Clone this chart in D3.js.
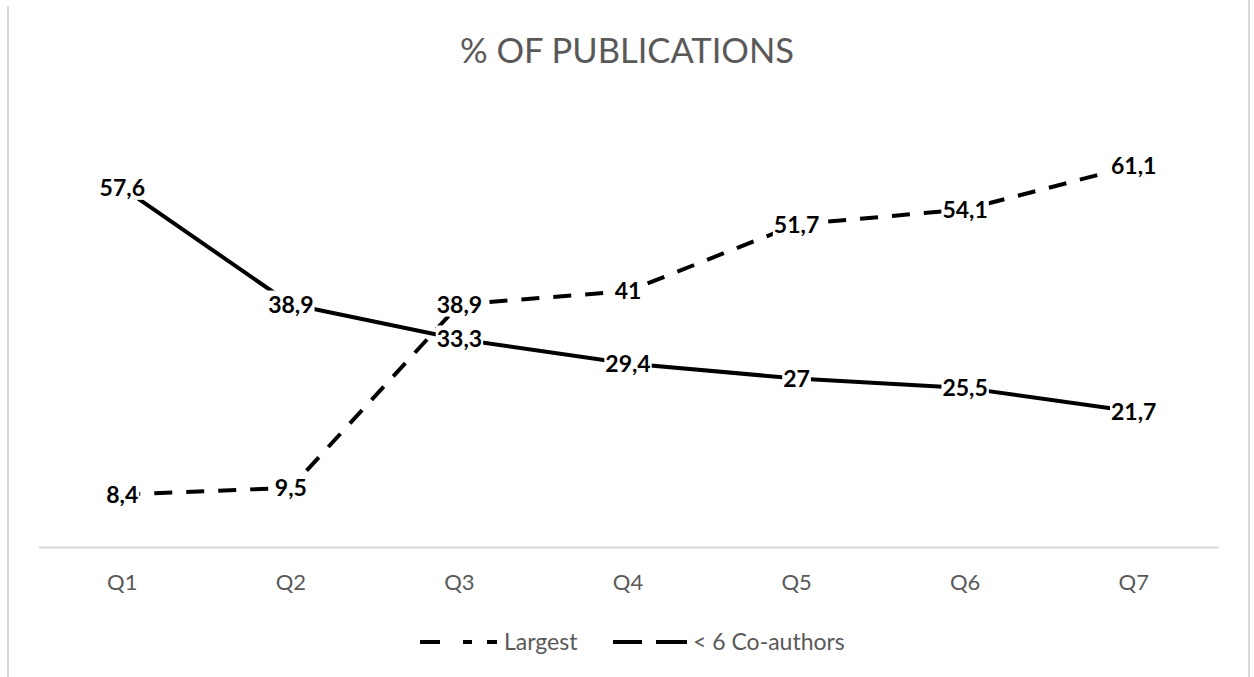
<!DOCTYPE html>
<html>
<head>
<meta charset="utf-8">
<script src="https://cdn.jsdelivr.net/npm/d3@7"></script>
<style>
  html, body { margin: 0; padding: 0; background: #fff; }
  svg { display: block; }
</style>
</head>
<body>
<svg id="chart" width="1254" height="677"></svg>
<script>
const categories = ["Q1", "Q2", "Q3", "Q4", "Q5", "Q6", "Q7"];
const largest = [8.4, 9.5, 38.9, 41, 51.7, 54.1, 61.1];
const coauthors = [57.6, 38.9, 33.3, 29.4, 27, 25.5, 21.7];
const seriesNames = ["Largest", "< 6 Co-authors"];
const title = "% OF PUBLICATIONS";

const W = 1254, H = 677;
const svg = d3.select("#chart");
const FONT = "Lato, 'Open Sans', sans-serif";

// frame
svg.append("line").attr("x1", 8).attr("x2", 8).attr("y1", 6).attr("y2", H)
  .attr("stroke", "#d9d9d9").attr("stroke-width", 2);
svg.append("line").attr("x1", 1249).attr("x2", 1249).attr("y1", 0).attr("y2", H)
  .attr("stroke", "#d9d9d9").attr("stroke-width", 2);

const x = d3.scaleBand().domain(categories).range([38, 1218]);
const y = d3.scaleLinear().domain([0, 70]).range([547, 547 - 70 * 6.24]);
const cx = c => x(c) + x.bandwidth() / 2;

// title
svg.append("text").attr("x", W / 2).attr("y", 63).attr("text-anchor", "middle")
  .attr("font-family", FONT).attr("font-size", 34.5).attr("fill", "#595959")
  .text(title);

// x axis
const xAxis = d3.axisBottom(x).tickSize(0).tickPadding(0);
const gx = svg.append("g").attr("transform", `translate(0,${y(0)})`).call(xAxis);
gx.select(".domain").attr("stroke", "#d9d9d9").attr("stroke-width", 2);
gx.selectAll("text").attr("font-family", FONT).attr("font-size", 22)
  .attr("fill", "#595959").attr("dy", null).attr("y", 43);

// lines
const line = d3.line().x((d, i) => cx(categories[i])).y(d => y(d));
svg.append("path").datum(coauthors).attr("d", line)
  .attr("fill", "none").attr("stroke", "#000").attr("stroke-width", 4)
  .attr("stroke-linejoin", "round");
svg.append("path").datum(largest).attr("d", line)
  .attr("fill", "none").attr("stroke", "#000").attr("stroke-width", 4)
  .attr("stroke-dasharray", "18,14");

// data labels with white boxes
function labels(data) {
  const g = svg.append("g");
  data.forEach((v, i) => {
    const lg = g.append("g").attr("transform", `translate(${cx(categories[i])},${y(v)})`);
    const t = lg.append("text").attr("text-anchor", "middle").attr("dy", "0.36em")
      .attr("font-family", FONT).attr("font-size", 23).attr("font-weight", "bold")
      .attr("fill", "#000").text(String(v).replace(".", ","));
    const b = t.node().getBBox();
    lg.insert("rect", "text").attr("x", b.x - 1).attr("y", b.y + 1)
      .attr("width", b.width + 2).attr("height", b.height - 2).attr("fill", "#fff");
  });
}
labels(coauthors);
labels(largest);

// legend
const leg = svg.append("g");
leg.append("line").attr("x1", 420).attr("x2", 497).attr("y1", 642).attr("y2", 642)
  .attr("stroke", "#000").attr("stroke-width", 4).attr("stroke-dasharray", "20,23,9,15,10");
leg.append("text").attr("x", 504).attr("y", 650).attr("font-family", FONT)
  .attr("font-size", 23).attr("fill", "#595959").text(seriesNames[0]);
leg.append("line").attr("x1", 613).attr("x2", 687).attr("y1", 642).attr("y2", 642)
  .attr("stroke", "#000").attr("stroke-width", 4).attr("stroke-dasharray", "29,14,31");
leg.append("text").attr("x", 693).attr("y", 650).attr("font-family", FONT)
  .attr("font-size", 23).attr("fill", "#595959").text(seriesNames[1]);
</script>
</body>
</html>
